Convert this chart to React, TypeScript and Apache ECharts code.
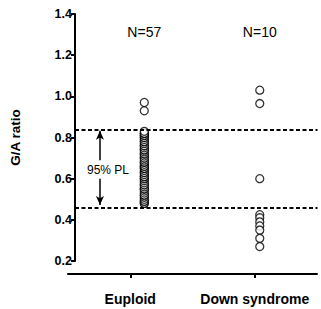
import React, { useEffect, useRef } from "react";
import * as echarts from "echarts";

// Group names and their positions on the value x axis
const categories = ["Euploid", "Down syndrome"];
const groupX = [1, 2];
const groupCounts = ["N=57", "N=10"];

// G/A ratio per sample
const euploid = [
  0.48, 0.48, 0.49, 0.49, 0.50, 0.51, 0.52, 0.52, 0.53, 0.54,
  0.55, 0.55, 0.56, 0.57, 0.57, 0.58, 0.59, 0.60, 0.60, 0.61,
  0.61, 0.62, 0.63, 0.63, 0.64, 0.65, 0.65, 0.66, 0.66, 0.67,
  0.68, 0.68, 0.69, 0.70, 0.70, 0.71, 0.72, 0.72, 0.73, 0.74,
  0.74, 0.75, 0.76, 0.76, 0.77, 0.78, 0.78, 0.79, 0.80, 0.80,
  0.81, 0.81, 0.82, 0.82, 0.83, 0.93, 0.97,
];
const downSyndrome = [1.03, 0.965, 0.60, 0.425, 0.41, 0.39, 0.37, 0.35, 0.31, 0.27];

// 95% prediction limits
const upperLimit = 0.844;
const lowerLimit = 0.461;

const yTicks = { min: 0.2, max: 1.4, interval: 0.2 };

const font = "Liberation Sans, Arial, sans-serif";

export default function App() {
  const ref = useRef<HTMLDivElement>(null);

  useEffect(() => {
    if (!ref.current) return;
    const chart = echarts.init(ref.current, null, { renderer: "svg" });

    const circle = {
      symbol: "circle",
      symbolSize: 8,
      itemStyle: { color: "#fff", borderColor: "#000", borderWidth: 1.3 },
    };

    const arrowX = 0.616;
    const midPL = (upperLimit + lowerLimit) / 2;
    const arrowLine = { color: "#000", width: 1.5, type: "solid" };

    chart.setOption({
      animation: false,
      backgroundColor: "#fff",
      grid: [
        { left: 55, right: 3.5, top: 14, bottom: 48 },
        { left: 68, right: 4, top: 14, bottom: 35 },
      ],
      xAxis: [
        { type: "value", gridIndex: 0, min: 0.4, max: 2.5, show: false },
        {
          type: "category",
          gridIndex: 1,
          data: categories,
          boundaryGap: true,
          axisLine: { show: true, onZero: false, lineStyle: { color: "#000", width: 2 } },
          axisTick: { show: true, alignWithLabel: true, length: 4, lineStyle: { color: "#000", width: 2 } },
          axisLabel: {
            color: "#000",
            fontFamily: font,
            fontWeight: "bold",
            fontSize: 14,
            margin: 18,
            interval: 0,
          },
        },
      ],
      yAxis: [
        {
          type: "value",
          gridIndex: 0,
          min: yTicks.min,
          max: yTicks.max,
          interval: yTicks.interval,
          name: "G/A ratio",
          nameLocation: "middle",
          nameGap: 33,
          nameTextStyle: { color: "#000", fontFamily: font, fontWeight: "bold", fontSize: 13.5, padding: [0, 0, 20, 0] },
          axisLine: { show: true, onZero: false, lineStyle: { color: "#000", width: 2 } },
          axisTick: { show: true, length: 4, lineStyle: { color: "#000", width: 2 } },
          axisLabel: {
            color: "#000",
            fontFamily: font,
            fontWeight: "bold",
            fontSize: 12.5,
            margin: 3,
            formatter: (v: number) => v.toFixed(1),
          },
          splitLine: { show: false },
        },
        { type: "value", gridIndex: 1, show: false },
      ],
      series: [
        {
          type: "scatter",
          xAxisIndex: 0,
          yAxisIndex: 0,
          ...circle,
          data: euploid.map((v) => [groupX[0], v]),
          markLine: {
            silent: true,
            symbol: "none",
            label: { show: false },
            data: [
              { yAxis: upperLimit, lineStyle: { color: "#000", width: 2, type: [4, 2.5] } },
              { yAxis: lowerLimit, lineStyle: { color: "#000", width: 2, type: [4, 2.5] } },
              [
                { coord: [arrowX, 0.69], symbol: "none", lineStyle: arrowLine },
                { coord: [arrowX, 0.833], symbol: "arrow", symbolSize: [6, 9], lineStyle: arrowLine },
              ],
              [
                { coord: [arrowX, 0.6], symbol: "none", lineStyle: arrowLine },
                { coord: [arrowX, 0.472], symbol: "arrow", symbolSize: [6, 9], lineStyle: arrowLine },
              ],
            ],
          },
          markPoint: {
            silent: true,
            symbol: "circle",
            symbolSize: 0,
            data: [
              {
                coord: [arrowX + 0.07, midPL - 0.012],
                label: {
                  show: true,
                  formatter: "95% PL",
                  color: "#000",
                  fontFamily: font,
                  fontSize: 12,
                  position: "inside",
                },
              },
              ...groupCounts.map((t, i) => ({
                coord: [groupX[i], 1.313],
                label: {
                  show: true,
                  formatter: t,
                  color: "#000",
                  fontFamily: font,
                  fontSize: 14,
                  position: "inside",
                },
              })),
            ],
          },
          z: 3,
        },
        {
          type: "scatter",
          xAxisIndex: 0,
          yAxisIndex: 0,
          ...circle,
          data: downSyndrome.map((v) => [groupX[1], v]),
          z: 3,
        },
      ],
    });

    return () => chart.dispose();
  }, []);

  return (
    <div
      ref={ref}
      style={{ position: "absolute", left: 0, top: 0, width: 321, height: 309 }}
    />
  );
}
